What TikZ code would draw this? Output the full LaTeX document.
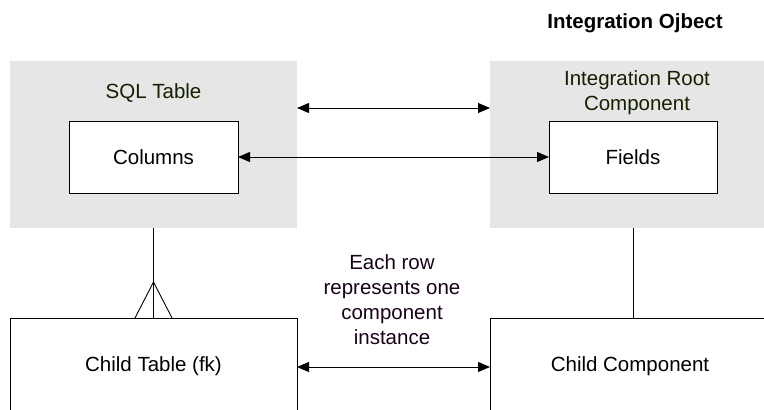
\documentclass[tikz,border=0pt]{standalone}
\usepackage{fontspec}
\setmainfont{Liberation Sans}
\usetikzlibrary{arrows.meta,calc}
\definecolor{groupgray}{HTML}{E6E6E6}
\definecolor{grouptext}{HTML}{142000}
\definecolor{notetext}{HTML}{180018}
\begin{document}
\begin{tikzpicture}[x=1pt,y=-1pt,
  every node/.style={font=\fontsize{20.5}{25}\selectfont, inner sep=0pt, outer sep=0pt},
  group/.style={fill=groupgray, draw=none, rectangle},
  entity/.style={draw=black, fill=white, line width=0.9pt, rectangle},
  link/.style={line width=0.9pt, {Triangle[length=12pt,width=10pt]}-{Triangle[length=12pt,width=10pt]}},
  rel/.style={line width=0.9pt}
]
\useasboundingbox (0,0) rectangle (764,410);
\clip (0,0) rectangle (764,410);
\fill[white] (0,0) rectangle (764,410);

\node (title) at (635,23) {\bfseries Integration Ojbect};

\node[group, minimum width=287pt, minimum height=167pt] (sqlgroup) at (153.5,144.5) {};
\node[group, minimum width=286pt, minimum height=167pt] (rootgroup) at (633,144.5) {};

\node[text=grouptext] (sqllabel) at (153.5,93) {SQL Table};
\node[text=grouptext, align=center] (rootlabel) at (637,92.5) {Integration Root\\Component};

\node[entity, minimum width=169pt, minimum height=72pt] (columns) at (153.5,157) {Columns};
\node[entity, minimum width=168pt, minimum height=72pt] (fields) at (633,157) {Fields};

\node[entity, minimum width=287pt, minimum height=96pt] (childtable) at (153.5,366) {Child Table (fk)};
\node[entity, minimum width=280pt, minimum height=96pt] (childcomp) at (630,366) {Child Component};

\node[text=notetext, align=center] (note) at (392,300) {Each row\\represents one\\component\\instance};

\draw[link] (sqlgroup.east |- 0,108) -- (rootgroup.west |- 0,108);
\draw[link] (columns.east) -- (fields.west);
\draw[link] (childtable.east |- 0,367) -- (childcomp.west |- 0,367);

\draw[rel] (sqlgroup.south) -- (childtable.north);
\coordinate (crow) at ($(childtable.north)+(0,-36)$);
\draw[rel] ($(childtable.north)+(-18.5,0)$) -- (crow) -- ($(childtable.north)+(18.5,0)$);
\draw[rel] (rootgroup.south -| fields.south) -- (childcomp.north -| fields.south);
\end{tikzpicture}
\end{document}
